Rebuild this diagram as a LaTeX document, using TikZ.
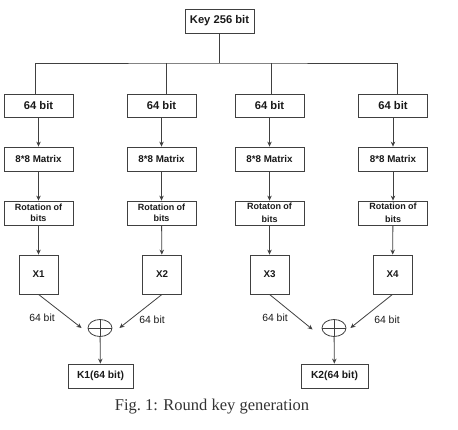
\documentclass[tikz,border=0pt]{standalone}
\usepackage{fontspec}
\setmainfont{Liberation Serif}
\newfontfamily\hv{Liberation Sans}
\usetikzlibrary{shapes.geometric,arrows.meta}
\begin{document}
\begin{tikzpicture}[x=1pt,y=-1pt,
  every node/.style={text=black!90},
  box/.style={draw=black!75,line width=0.8pt,inner sep=0pt,align=center,font=\hv\bfseries},
  wbox/.style={box,minimum width=69pt},
  ln/.style={draw=black!75,line width=0.8pt},
  arr/.style={ln,-{Stealth[length=5pt,width=4.5pt]}},
  lab/.style={font=\hv\fontsize{10.4}{12}\selectfont,inner sep=0pt},
  xorn/.style={ellipse,draw=black!75,line width=0.8pt,minimum width=24pt,minimum height=17pt,inner sep=0pt}
]
\useasboundingbox (0,0) rectangle (458,429);
\node[box,minimum width=69pt,minimum height=24pt,font=\hv\bfseries\fontsize{11.2}{13}\selectfont] (key) at (219.5,21) {Key 256 bit};
\coordinate (bar) at (219.5,63);
% 64 bit
\foreach \i/\x in {1/38.5,2/161.5,3/269.5,4/393}{
  \node[wbox,minimum height=23pt,font=\hv\bfseries\fontsize{11.2}{13}\selectfont] (a\i) at (\x,105.5) {64 bit};
  \node[wbox,minimum height=24pt,font=\hv\bfseries\fontsize{9.8}{11}\selectfont] (m\i) at (\x,159) {8*8 Matrix};
}
\node[wbox,minimum height=24pt,font=\hv\bfseries\fontsize{9}{10.5}\selectfont] (r1) at (38.5,213) {Rotation of\\bits};
\node[wbox,minimum height=24pt,font=\hv\bfseries\fontsize{9}{10.5}\selectfont] (r2) at (161.5,213) {Rotation of\\bits};
\node[wbox,minimum height=24pt,font=\hv\bfseries\fontsize{9}{11.5}\selectfont] (r3) at (269.5,213) {\raisebox{1.2pt}{Rotaton of}\\bits};
\node[wbox,minimum height=24pt,font=\hv\bfseries\fontsize{9}{11.5}\selectfont] (r4) at (393,213) {\raisebox{1.2pt}{Rotation of}\\bits};
\foreach \i/\x in {1/38.5,2/162,3/269.5,4/392.5}{
  \node[box,minimum width=39pt,minimum height=39pt,font=\hv\bfseries\fontsize{9.8}{11}\selectfont] (x\i) at (\x,274.5) {X\i};
}
\node[xorn] (o1) at (100,328) {};
\node[xorn] (o2) at (334,328) {};
\draw[ln] (o1.north) -- (o1.south) (o1.west) -- (o1.east);
\draw[ln] (o2.north) -- (o2.south) (o2.west) -- (o2.east);
\node[box,minimum width=65pt,minimum height=24pt,font=\hv\bfseries\fontsize{10.3}{12}\selectfont] (k1) at (100.5,376) {K1(64 bit)};
\node[box,minimum width=67pt,minimum height=24pt,font=\hv\bfseries\fontsize{10.3}{12}\selectfont] (k2) at (334.5,376) {K2(64 bit)};
% tree
\draw[ln] (key.south) -- (bar);
\draw[ln] ([xshift=-3.5pt]a1.north) |- (bar) -| ([xshift=4pt]a4.north);
\draw[ln] ([xshift=4.5pt]a2.north) -- ([xshift=4.5pt]a2.north |- bar);
\draw[ln] ([xshift=1.5pt]a3.north) -- ([xshift=1.5pt]a3.north |- bar);
\foreach \i in {1,2,3,4}{
  \draw[arr] (a\i) -- (m\i);
  \draw[arr] (m\i) -- (r\i);
  \draw[arr] (r\i) -- (x\i);
}
\draw[arr] (x1.south) -- ([xshift=-6pt]o1.west);
\draw[arr] (x2.south) -- ([xshift=7pt]o1.east);
\draw[arr] (x3.south) -- ([xshift=-9pt,yshift=-1.5pt]o2.west);
\draw[arr] (x4.south) -- ([xshift=4pt]o2.east);
\draw[arr] (o1) -- (k1);
\draw[arr] (o2) -- (k2);
\node[lab] (l1) at (42,318) {64 bit};
\node[lab] (l2) at (152,319.5) {64 bit};
\node[lab] (l3) at (275,317.5) {64 bit};
\node[lab] (l4) at (387,319.5) {64 bit};
\node[font=\fontsize{16.5}{18}\selectfont,inner sep=0pt,text=black!80] (cap) at (212,407) {Fig.\ 1: Round key generation};
\end{tikzpicture}
\end{document}
